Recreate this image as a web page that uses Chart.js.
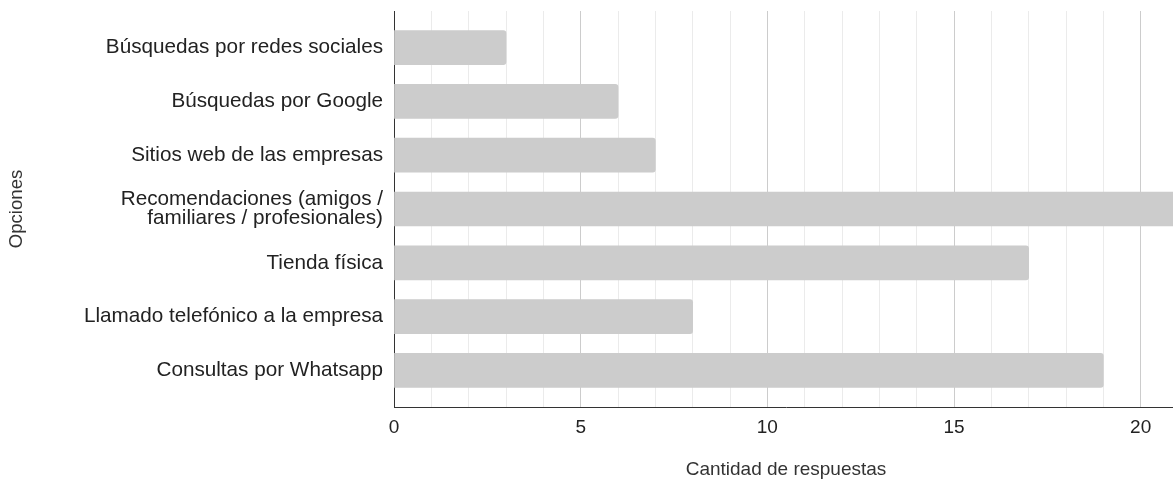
<!DOCTYPE html>
<html lang="es">
<head>
<meta charset="utf-8">
<title>Opciones</title>
<script src="https://cdn.jsdelivr.net/npm/chart.js@4"></script>
<style>
  html, body { margin: 0; padding: 0; background: #fff; overflow: hidden; }
  .grafico { width: 1178px; height: 481px; }
</style>
</head>
<body>
<div class="grafico"><canvas id="grafico-opciones"></canvas></div>
<script>
const categorias = [
  'Búsquedas por redes sociales',
  'Búsquedas por Google',
  'Sitios web de las empresas',
  ['Recomendaciones (amigos /', 'familiares / profesionales)'],
  'Tienda física',
  'Llamado telefónico a la empresa',
  'Consultas por Whatsapp'
];
const respuestas = [3, 6, 7, 21, 17, 8, 19];
const marcasX = [0, 5, 10, 15, 20];

const fuente = "'Liberation Sans', Arial, sans-serif";

const ctx = document.getElementById('grafico-opciones');
new Chart(ctx, {
  type: 'bar',
  data: {
    datasets: [{
      label: 'Cantidad de respuestas',
      data: respuestas.map(function (v, i) { return { x: v, y: i }; }),
      backgroundColor: '#cccccc',
      borderWidth: 0,
      borderRadius: 3,
      borderSkipped: 'start',
      barThickness: 34
    }]
  },
  options: {
    indexAxis: 'y',
    responsive: true,
    maintainAspectRatio: false,
    animation: false,
    layout: { padding: { top: 11, right: 0, bottom: 0, left: 0 } },
    plugins: {
      legend: { display: false },
      tooltip: { enabled: false }
    },
    scales: {
      x: {
        type: 'linear',
        min: 0,
        max: 21,
        afterFit: function (s) { s.height = 74; s.paddingLeft = 0; s.paddingRight = 0; },
        grid: {
          drawTicks: false,
          color: function (c) {
            return c.tick && marcasX.includes(c.tick.value) ? '#cccccc' : '#ebebeb';
          }
        },
        border: { color: '#333333', width: 1 },
        ticks: {
          stepSize: 1,
          autoSkip: false,
          maxRotation: 0,
          padding: 9,
          color: '#222222',
          font: { family: fuente, size: 19 },
          callback: function (v) { return marcasX.includes(v) ? String(v) : ''; }
        },
        title: {
          display: true,
          text: 'Cantidad de respuestas',
          color: '#333333',
          font: { family: fuente, size: 19 },
          padding: { top: 0, bottom: 0 }
        }
      },
      y: {
        type: 'linear',
        reverse: true,
        offset: false,
        min: -0.68,
        max: 6.68,
        afterFit: function (s) { s.width = 394; s.paddingTop = 0; s.paddingBottom = 0; },
        afterBuildTicks: function (s) {
          s.ticks = categorias.map(function (_, i) { return { value: i }; });
        },
        grid: { display: false, drawTicks: false },
        border: { color: '#333333', width: 1 },
        ticks: {
          padding: 11,
          color: '#222222',
          font: { family: fuente, size: 20.7, lineHeight: 0.9 },
          callback: function (v) { return categorias[v]; }
        },
        title: {
          display: true,
          text: 'Opciones',
          color: '#333333',
          font: { family: fuente, size: 18.6 },
          padding: { top: 6, bottom: 0 }
        }
      }
    }
  }
});
</script>
</body>
</html>
